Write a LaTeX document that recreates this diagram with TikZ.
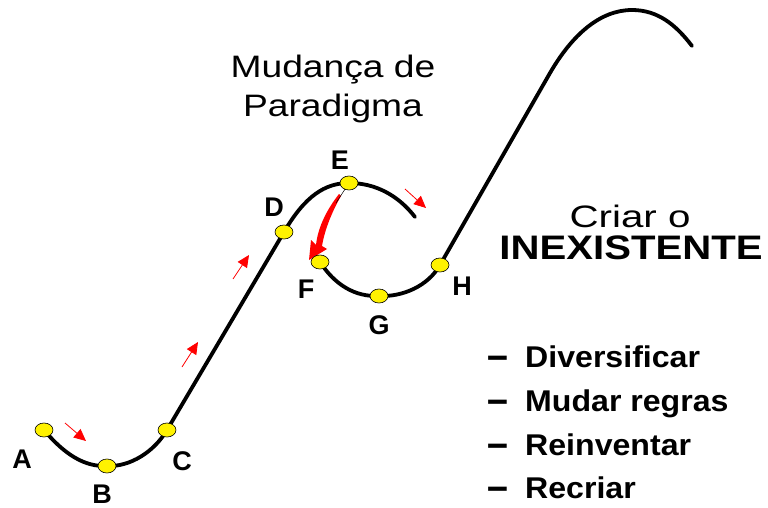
\documentclass[tikz,border=0pt]{standalone}
\usepackage{fontspec}
\setmainfont{Liberation Sans}
\usetikzlibrary{arrows.meta,shapes.geometric}
\newcommand{\bigdash}{\raisebox{-2.5pt}{\scalebox{1.25}[1.4]{–}}}
\begin{document}
\begin{tikzpicture}[x=1pt,y=-1pt,
  ptnode/.style={ellipse, draw=black, line width=0.6pt, fill=yellow, minimum width=18pt, minimum height=14pt, inner sep=0pt},
  curveline/.style={line width=3.8pt, line cap=round},
  lbl/.style={font=\bfseries\fontsize{27}{27}\selectfont, inner sep=0pt},
  redarr/.style={red, line width=0.8pt, -{Triangle[length=12pt,width=11pt]}},
  bigtxt/.style={font=\fontsize{31}{31}\selectfont, inner sep=0pt},
  listtxt/.style={font=\bfseries\fontsize{30}{30}\selectfont, inner sep=0pt, anchor=base west}]
\useasboundingbox (0,0) rectangle (768,508);
\coordinate (a) at (44,430);
\coordinate (b) at (107,466);
\coordinate (c) at (167,430);
\coordinate (d) at (284,232);
\coordinate (e) at (349,183);
\coordinate (f) at (320,262);
\coordinate (g) at (379,296);
\coordinate (h) at (440,265);
\coordinate (end1) at (415,217);
\coordinate (top2) at (632,10);
\coordinate (end2) at (692,46);
% curves
\draw[curveline] (a) .. controls (65,455) and (85,467) .. (b)
  .. controls (130,467) and (154,452) .. (c) -- (d)
  .. controls (305,196) and (325,183) .. (e)
  .. controls (375,183) and (398,195) .. (end1);
\draw[curveline] (f) .. controls (335,285) and (355,297) .. (g)
  .. controls (403,297) and (428,286) .. (h) -- (550,73)
  .. controls (572,35) and (600,10) .. (top2)
  .. controls (658,10) and (676,25) .. (end2);
% small red arrows
\coordinate (r1s) at (65,423); \coordinate (r1e) at (86,441);
\coordinate (r2s) at (182,367); \coordinate (r2e) at (198,342);
\coordinate (r3s) at (233,279); \coordinate (r3e) at (249,255);
\coordinate (r4s) at (405,189); \coordinate (r4e) at (426,208);
\draw[redarr] (r1s) -- (r1e);
\draw[redarr] (r2s) -- (r2e);
\draw[redarr] (r3s) -- (r3e);
\draw[redarr] (r4s) -- (r4e);
% big curved arrow E -> F
\fill[red] (341,196) .. controls (333,210) and (325,228) .. (322,246) -- (327,249) -- (309,260) -- (311,240) -- (316,245) .. controls (318,226) and (328,208) .. (339,194) -- cycle;
\draw[black, line width=0.5pt] (349,183) -- (336,203);
% points
\node[ptnode] (A) at (a) {};
\node[ptnode] (B) at (b) {};
\node[ptnode] (C) at (c) {};
\node[ptnode] (D) at (d) {};
\node[ptnode] (E) at (e) {};
\node[ptnode] (F) at (f) {};
\node[ptnode] (G) at (g) {};
\node[ptnode] (H) at (h) {};
% labels
\node[lbl] (lA) at (22,459) {A};
\node[lbl] (lB) at (102,494) {B};
\node[lbl] (lC) at (182,461) {C};
\node[lbl] (lD) at (274,207) {D};
\node[lbl] (lE) at (340,160) {E};
\node[lbl] (lF) at (306,289) {F};
\node[lbl] (lG) at (379,325) {G};
\node[lbl] (lH) at (462,286) {H};
% texts
\node[bigtxt, anchor=base] (mud) at (333,78) {\scalebox{1.2}[1]{Mudança de}};
\node[bigtxt, anchor=base] (par) at (333,117) {\scalebox{1.2}[1]{Paradigma}};
\node[bigtxt, anchor=base] (cri) at (630,227) {\scalebox{1.3}[1]{Criar o}};
\node[bigtxt, anchor=base, font=\bfseries\fontsize{34}{34}\selectfont] (inx) at (631,259) {\scalebox{1.18}[1]{INEXISTENTE}};
\node[listtxt] (d1) at (487,367) {\bigdash};
\node[listtxt] (t1) at (525,367) {\scalebox{1.07}[1]{Diversificar}};
\node[listtxt] (d2) at (487,411) {\bigdash};
\node[listtxt] (t2) at (525,411) {\scalebox{1.07}[1]{Mudar regras}};
\node[listtxt] (d3) at (487,455) {\bigdash};
\node[listtxt] (t3) at (525,455) {\scalebox{1.07}[1]{Reinventar}};
\node[listtxt] (d4) at (487,498) {\bigdash};
\node[listtxt] (t4) at (525,498) {\scalebox{1.07}[1]{Recriar}};
\end{tikzpicture}
\end{document}
